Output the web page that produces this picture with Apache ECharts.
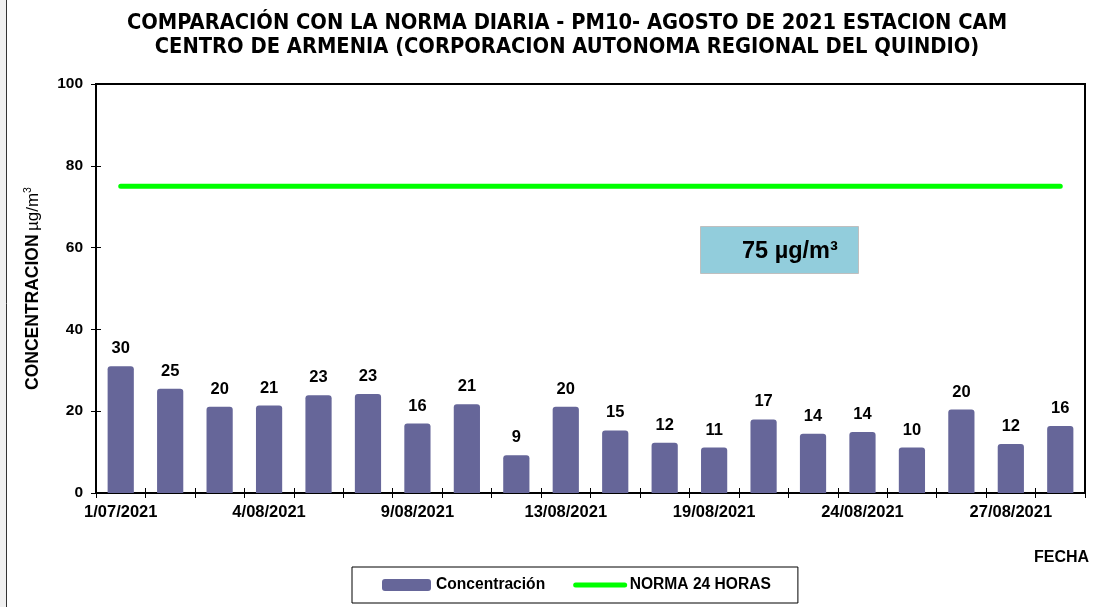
<!DOCTYPE html>
<html><head><meta charset="utf-8">
<script src="https://cdn.jsdelivr.net/npm/echarts@6/dist/echarts.min.js"></script>
<style>html,body{margin:0;padding:0;background:#fff}#c{width:1104px;height:607px}</style>
</head><body><div id="c"></div>
<script>
const fechas = ['1/07/2021','2/08/2021','3/08/2021','4/08/2021','5/08/2021','6/08/2021','9/08/2021','10/08/2021','12/08/2021','13/08/2021','14/08/2021','18/08/2021','19/08/2021','20/08/2021','23/08/2021','24/08/2021','25/08/2021','26/08/2021','27/08/2021','28/08/2021'];
const concentracion = [31.0, 25.5, 21.1, 21.4, 23.9, 24.2, 17.0, 21.7, 9.2, 21.1, 15.3, 12.3, 11.1, 18.0, 14.5, 14.9, 11.1, 20.4, 12.0, 16.4];
const etiquetas = ['30','25','20','21','23','23','16','21','9','20','15','12','11','17','14','14','10','20','12','16'];
const norma = [75,75,75,75,75,75,75,75,75,75,75,75,75,75,75,75,75,75,75,75];
const yTicks = [0, 20, 40, 60, 80, 100];

const AR = "'Liberation Sans', Arial, sans-serif";
const chart = echarts.init(document.getElementById('c'), null, {renderer: 'canvas'});
const grid = {left: 96, top: 84, width: 989, height: 409};
chart.setOption({
  backgroundColor: '#ffffff',
  animation: false,
  title: {
    text: 'COMPARACIÓN CON LA NORMA DIARIA - PM10- AGOSTO DE 2021 ESTACION CAM\nCENTRO DE ARMENIA (CORPORACION AUTONOMA REGIONAL DEL QUINDIO)',
    left: 562, top: 6, textAlign: 'center',
    textStyle: {fontFamily: "'DejaVu Sans Condensed', 'DejaVu Sans', sans-serif", fontWeight: 'bold', fontSize: 21.7, lineHeight: 24, color: '#000'}
  },
  grid: Object.assign({show: true, borderColor: '#000', borderWidth: 2, backgroundColor: 'transparent'}, grid),
  legend: {
    left: 352, top: 567,
    borderColor: '#000', borderWidth: 1,
    padding: [10, 27, 10, 30],
    itemWidth: 49, itemHeight: 12, itemGap: 28,
    lineStyle: {width: 5},
    textStyle: {fontFamily: AR, fontWeight: 'bold', fontSize: 15.6, color: '#000'},
    data: [{name: 'Concentración'}, {name: 'NORMA 24 HORAS', itemStyle: {opacity: 0}}]
  },
  xAxis: [{
    type: 'category', data: fechas, position: 'bottom',
    axisLine: {lineStyle: {color: '#000', width: 2}},
    axisTick: {show: true, interval: 0, length: 5, inside: false, lineStyle: {color: '#000', width: 1}},
    axisLabel: {interval: 2, margin: 11, fontFamily: AR, fontWeight: 'bold', fontSize: 16.5, color: '#000'},
    splitLine: {show: false}
  }, {
    type: 'category', data: fechas, position: 'bottom',
    axisLine: {show: false},
    axisTick: {show: true, interval: 0, length: 5, inside: true, lineStyle: {color: '#000', width: 1}},
    axisLabel: {show: false}, splitLine: {show: false}
  }],
  yAxis: [{
    type: 'value', min: yTicks[0], max: yTicks[yTicks.length - 1], interval: yTicks[1] - yTicks[0],
    axisLine: {show: true, lineStyle: {color: '#000', width: 2}},
    axisTick: {show: true, length: 5, lineStyle: {color: '#000', width: 1}},
    axisLabel: {margin: 13, fontFamily: AR, fontWeight: 'bold', fontSize: 15.5, color: '#000'},
    splitLine: {show: false},
    name: '{a|CONCENTRACION} {b|µg/m}{c|3}',
    nameLocation: 'middle', nameGap: 53, nameRotate: 90,
    nameTextStyle: {
      rich: {
        a: {fontFamily: AR, fontWeight: 'bold', fontSize: 17.5, color: '#000'},
        b: {fontFamily: AR, fontSize: 17, color: '#000'},
        c: {fontFamily: AR, fontSize: 10.5, color: '#000', verticalAlign: 'top', padding: [0,0,9,0]}
      }
    }
  }, {
    type: 'value', min: yTicks[0], max: yTicks[yTicks.length - 1], interval: yTicks[1] - yTicks[0],
    position: 'left',
    axisLine: {show: false},
    axisTick: {show: true, inside: true, length: 5, lineStyle: {color: '#000', width: 1}},
    axisLabel: {show: false}, splitLine: {show: false}
  }],
  series: [{
    name: 'Concentración', type: 'bar', data: concentracion,
    xAxisIndex: 0, yAxisIndex: 0,
    barWidth: '53%',
    itemStyle: {color: '#666699', borderRadius: [3, 3, 0, 0]},
    label: {
      show: true, position: 'top', distance: 9,
      formatter: p => etiquetas[p.dataIndex],
      fontFamily: AR, fontWeight: 'bold', fontSize: 16.5, color: '#000'
    }
  }, {
    name: 'NORMA 24 HORAS', type: 'line', data: norma,
    xAxisIndex: 0, yAxisIndex: 0,
    symbol: 'none', showSymbol: false,
    lineStyle: {color: '#00ff00', width: 5, cap: 'round'},
    itemStyle: {color: '#00ff00'}
  }],
  graphic: [
    {type: 'rect', left: 0, top: 0, shape: {width: 6, height: 607}, style: {fill: '#f0f0f0'}},
    {type: 'line', shape: {x1: 6.5, y1: 0, x2: 6.5, y2: 607}, style: {stroke: '#333', lineWidth: 1}},
    {type: 'rect', shape: {x: 700.5, y: 226.5, width: 158, height: 47}, style: {fill: '#92cddc', stroke: '#bfbfbf', lineWidth: 1}},
    {type: 'text', x: 742, y: 252, style: {text: '75 µg/m³', fontFamily: AR, fontWeight: 'bold', fontSize: 23.5, fill: '#000', textVerticalAlign: 'middle'}},
    {type: 'text', x: 1034, y: 558, style: {text: 'FECHA', fontFamily: AR, fontWeight: 'bold', fontSize: 16, fill: '#000', textVerticalAlign: 'middle'}}
  ]
});
</script></body></html>
